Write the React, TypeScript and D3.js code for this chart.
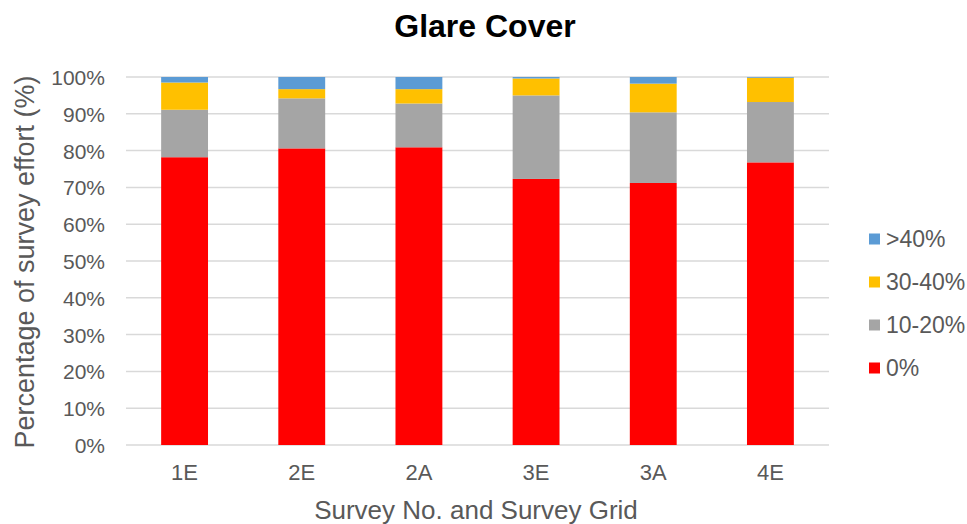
import React from "react";
import * as d3 from "d3";

const categories = ["1E", "2E", "2A", "3E", "3A", "4E"];
const seriesNames = ["0%", "10-20%", "30-40%", ">40%"];
const seriesColors = ["#FF0000", "#A5A5A5", "#FFC000", "#5B9BD5"];
const zero = [78.2, 80.6, 80.9, 72.3, 71.2, 76.8];
const tenTwenty = [12.9, 13.6, 11.9, 22.7, 19.2, 16.4];
const thirtyForty = [7.4, 2.5, 3.9, 4.6, 7.8, 6.6];
const overForty = [1.5, 3.3, 3.3, 0.4, 1.8, 0.2];
const yTicks = [0, 10, 20, 30, 40, 50, 60, 70, 80, 90, 100];

const W = 967;
const H = 524;
const M = { left: 126, right: 829, top: 77, bottom: 445 };
const FONT = "'Liberation Sans', Arial, sans-serif";
const TXT = "#595959";

export default function App() {
  const x = d3
    .scaleBand<string>()
    .domain(categories)
    .range([M.left, M.right])
    .paddingInner(0.6)
    .paddingOuter(0.3);
  const y = d3.scaleLinear().domain([0, 100]).range([M.bottom, M.top]);

  const rows = categories.map((c, i) => ({
    cat: c,
    s0: zero[i],
    s1: tenTwenty[i],
    s2: thirtyForty[i],
    s3: overForty[i],
  }));
  const stack = d3.stack<any>().keys(["s0", "s1", "s2", "s3"]);
  const layers = stack(rows);

  const legendY = [239, 282, 325, 368];
  const legendOrder = [3, 2, 1, 0];

  return (
    <svg width={W} height={H} style={{ position: "absolute", left: 0, top: 0, background: "#fff" }}>
      <text x={485} y={37} textAnchor="middle" fontFamily={FONT} fontWeight="bold" fontSize={32} fill="#000">
        Glare Cover
      </text>
      {yTicks.map((t) => (
        <g key={t}>
          <line x1={M.left} x2={M.right} y1={y(t)} y2={y(t)} stroke="#D9D9D9" strokeWidth={1.5} />
          <text x={105} y={y(t) + 8} textAnchor="end" fontFamily={FONT} fontSize={21} fill={TXT}>
            {t}%
          </text>
        </g>
      ))}
      {layers.map((layer, li) => (
        <g key={li} fill={seriesColors[li]}>
          {layer.map((d: any, i: number) => (
            <rect
              key={i}
              x={x(categories[i])}
              y={y(d[1])}
              width={x.bandwidth()}
              height={Math.max(0, y(d[0]) - y(d[1]))}
            />
          ))}
        </g>
      ))}
      {categories.map((c) => (
        <text key={c} x={(x(c) as number) + x.bandwidth() / 2} y={480} textAnchor="middle" fontFamily={FONT} fontSize={22} fill={TXT}>
          {c}
        </text>
      ))}
      <text x={476} y={519} textAnchor="middle" fontFamily={FONT} fontSize={26} fill={TXT}>
        Survey No. and Survey Grid
      </text>
      <text
        transform={`translate(34, 262) rotate(-90)`}
        textAnchor="middle"
        fontFamily={FONT}
        fontSize={27}
        fill={TXT}
      >
        Percentage of survey effort (%)
      </text>
      {legendOrder.map((si, k) => (
        <g key={si}>
          <rect x={869} y={legendY[k] - 5.5} width={11} height={11} fill={seriesColors[si]} />
          <text x={886} y={legendY[k] + 8} fontFamily={FONT} fontSize={23} fill={TXT}>
            {seriesNames[si]}
          </text>
        </g>
      ))}
    </svg>
  );
}
